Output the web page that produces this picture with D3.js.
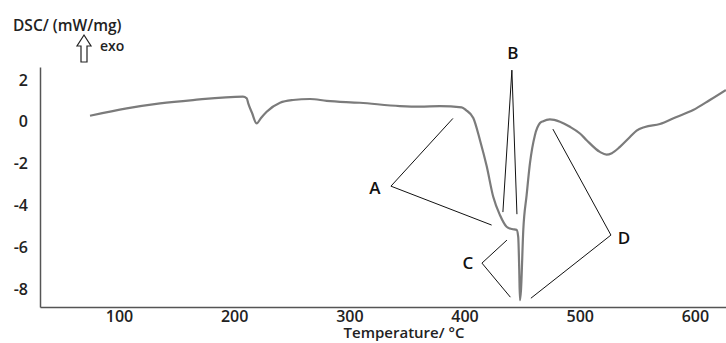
<!DOCTYPE html>
<html>
<head>
<meta charset="utf-8">
<script src="https://cdn.jsdelivr.net/npm/d3@7"></script>
<style>
  html, body { margin: 0; padding: 0; background: #fff; }
  svg { display: block; font-family: "Open Sans", "DejaVu Sans", sans-serif; }
</style>
</head>
<body>
<svg id="chart" width="726" height="343"></svg>
<script>
// DSC trace: temperature (°C) and heat flow (mW/mg)
const temperature = [74.8, 106.7, 135.6, 164.2, 207.6, 210.9, 212.2, 215.5, 219.5, 223.3,
  228.2, 239.8, 251.0, 265.8, 280.3, 309.2, 343.9, 361.3, 378.6, 397.5,
  401.2, 407.6, 413.4, 419.2, 424.9, 430.7, 436.5, 441.1, 445.2, 446.6,
  447.5, 448.1, 449.0, 451.0, 453.9, 456.8, 461.1, 465.5, 468.3, 474.1,
  482.8, 491.5, 500.2, 506.0, 517.5, 523.3, 527.9, 534.9, 543.6, 549.4,
  556.6, 569.6, 583.5, 598.5, 613.0, 626.9];
const dsc = [0.29, 0.64, 0.88, 1.04, 1.20, 1.12, 0.88, 0.42, -0.08, 0.18,
  0.48, 0.91, 1.04, 1.09, 1.00, 0.91, 0.75, 0.72, 0.75, 0.69,
  0.56, 0.18, -0.88, -2.12, -3.59, -4.46, -5.02, -5.13, -5.17, -5.50,
  -7.10, -8.53, -8.05, -5.18, -3.51, -1.98, -0.64, -0.06, 0.03, 0.11,
  0.00, -0.24, -0.56, -0.88, -1.44, -1.57, -1.50, -1.20, -0.73, -0.42,
  -0.25, -0.11, 0.22, 0.56, 1.04, 1.52];

const xTicks = [100, 200, 300, 400, 500, 600];
const yTicks = [2, 0, -2, -4, -6, -8];

// Callouts: label, label position, vertex, and the two leader ends (temperature, dsc)
const calloutNames = ["A", "B", "C", "D"];
const calloutLabel = [[322.2, -3.12], [442.0, 3.33], [403.0, -6.71], [538.4, -5.52]];
const calloutVertex = [[336.1, -3.08], [441.1, 2.47], [415.1, -6.76], [527.1, -5.42]];
const calloutEndA = [[389.9, 0.16], [433.3, -4.32], [436.8, -5.66], [476.7, -0.35]];
const calloutEndB = [[423.5, -4.94], [445.5, -4.42], [439.8, -8.39], [457.6, -8.44]];

const svg = d3.select("#chart");
const x = d3.scaleLinear().domain([31.4, 627]).range([40, 726]);
const y = d3.scaleLinear().domain([2.62, -8.86]).range([67, 307]);

// axes
const xAxis = svg.append("g").attr("transform", "translate(0,307)")
  .call(d3.axisBottom(x).tickValues(xTicks).tickSize(0).tickSizeOuter(0).tickPadding(4)
    .tickFormat(d => String(d)));
const yAxis = svg.append("g").attr("transform", "translate(40,0)")
  .call(d3.axisLeft(y).tickValues(yTicks).tickSize(0).tickSizeOuter(0).tickPadding(12)
    .tickFormat(d => String(d)));
[xAxis, yAxis].forEach(g => {
  g.select(".domain").attr("stroke", "#555").attr("stroke-width", 1.5);
  g.selectAll("text").attr("fill", "#222").style("font-size", "16px")
    .style("font-weight", 600).style("font-family", "'Open Sans', sans-serif");
});

// trace
const pts = temperature.map((t, i) => [t, dsc[i]]);
svg.append("path")
  .datum(pts)
  .attr("fill", "none")
  .attr("stroke", "#7b7b7b")
  .attr("stroke-width", 2.2)
  .attr("stroke-linejoin", "round")
  .attr("d", d3.line().x(d => x(d[0])).y(d => y(d[1])).curve(d3.curveMonotoneX));

// callout leaders and letters
calloutNames.forEach((name, i) => {
  const v = calloutVertex[i];
  [calloutEndA[i], calloutEndB[i]].forEach(e => {
    svg.append("line")
      .attr("x1", x(v[0])).attr("y1", y(v[1]))
      .attr("x2", x(e[0])).attr("y2", y(e[1]))
      .attr("stroke", "#111").attr("stroke-width", 1);
  });
  svg.append("text")
    .attr("x", x(calloutLabel[i][0])).attr("y", y(calloutLabel[i][1]))
    .attr("text-anchor", "middle").attr("dominant-baseline", "central")
    .attr("fill", "#111").style("font-size", "17px").style("font-weight", 600)
    .text(name);
});

// axis titles
svg.append("text").attr("x", 404).attr("y", 338).attr("text-anchor", "middle")
  .attr("fill", "#222").style("font-size", "15px").style("font-weight", 600)
  .text("Temperature/ °C");
svg.append("text").attr("x", 13).attr("y", 31)
  .attr("fill", "#222").style("font-size", "15.5px").style("font-weight", 600)
  .text("DSC/ (mW/mg)");

// exothermic direction arrow
const ax = 84;
svg.append("path")
  .attr("d", `M${ax},35 L${ax + 7},46 L${ax + 3},46 L${ax + 3},62 L${ax - 3},62 L${ax - 3},46 L${ax - 7},46 Z`)
  .attr("fill", "#fff").attr("stroke", "#222").attr("stroke-width", 1.2)
  .attr("stroke-linejoin", "miter");
svg.append("text").attr("x", 100).attr("y", 51)
  .attr("fill", "#222").style("font-size", "14px").style("font-weight", 600)
  .text("exo");
</script>
</body>
</html>
